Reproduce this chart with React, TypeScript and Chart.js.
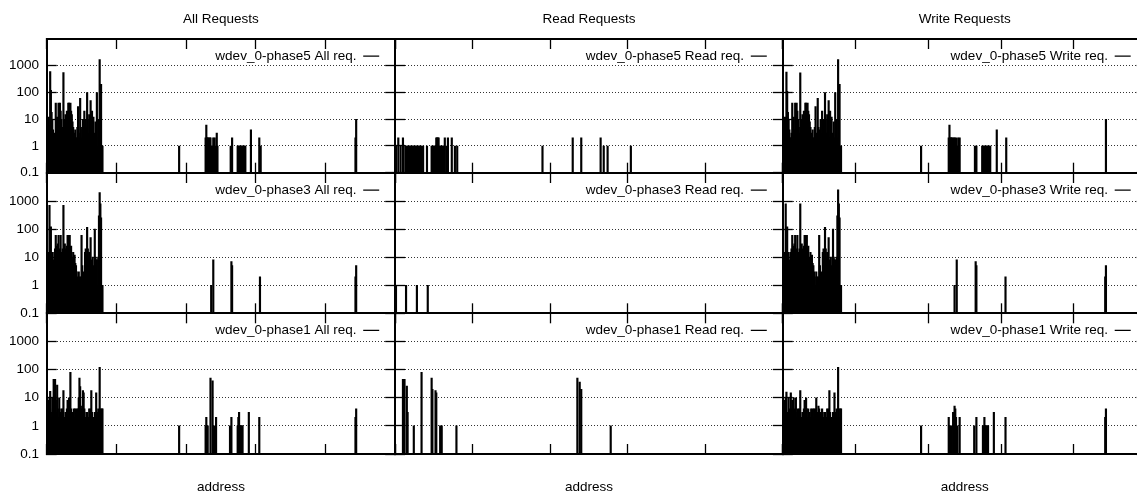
import React, { useEffect, useRef } from 'react';
import { Chart, registerables } from 'chart.js';

Chart.register(...registerables);

// ---------- text ----------
const COLUMN_TITLES = ['All Requests', 'Read Requests', 'Write Requests'];
const LEGEND_SUFFIXES = ['All req.', 'Read req.', 'Write req.'];
const PHASES = ['wdev_0-phase5', 'wdev_0-phase3', 'wdev_0-phase1'];
const X_AXIS_LABEL = 'address';

// ---------- axes ----------
const Y_TICKS = [0.1, 1, 10, 100, 1000];
const Y_MIN = 0.1;
const Y_MAX = 10000;
const X_TICKS = [0, 100, 200, 300, 400, 500];
const X_MIN = 0;
const X_MAX = 500;

// ---------- data (request counts per address; dense blocks start at address 0) ----------
const P5_ALL_DENSE = [12, 10, 8, 12, 6, 600, 120, 18, 10, 4, 2, 2, 3, 40, 8, 12, 5, 40, 10, 40, 20, 10, 5, 3, 550, 8, 10, 15, 6, 20, 12, 40, 40, 30, 40, 20, 15, 8, 5, 3, 2, 4, 2, 2, 5, 30, 3, 2, 60, 5, 2, 4, 10, 3, 20, 2, 10, 5, 100, 10, 3, 15, 5, 50, 2, 20, 2, 12, 3, 2, 8, 2, 100, 1, 10, 2, 1700, 2, 200, 1, 1];
const P5_ALL_SPARSE = [[190, 1], [228, 2], [229, 6], [230, 2], [231, 2], [232, 2], [233, 1], [234, 2], [235, 2], [236, 1], [237, 1], [238, 1], [239, 2], [240, 1], [241, 2], [242, 1], [244, 3], [245, 1], [264, 1], [266, 2], [274, 1], [275, 1], [276, 1], [277, 1], [278, 1], [279, 1], [280, 1], [281, 1], [282, 1], [283, 1], [284, 1], [285, 1], [293, 4], [305, 2], [307, 1], [443, 2], [444, 10]];
const P5_READ_SPARSE = [[1, 1], [4, 2], [7, 1], [10, 2], [13, 1], [15, 1], [16, 1], [17, 1], [18, 1], [19, 1], [20, 1], [21, 1], [22, 1], [23, 1], [24, 1], [25, 1], [26, 1], [27, 1], [28, 1], [29, 1], [30, 1], [31, 1], [32, 1], [33, 1], [34, 1], [36, 1], [41, 1], [47, 1], [48, 1], [49, 1], [50, 1], [51, 1], [52, 1], [53, 2], [54, 2], [55, 2], [56, 2], [57, 1], [58, 1], [59, 1], [60, 1], [61, 1], [62, 1], [63, 1], [64, 2], [66, 1], [68, 2], [73, 2], [77, 1], [80, 1], [190, 1], [229, 2], [240, 2], [265, 2], [269, 1], [274, 1], [304, 1]];
const P5_WRITE_DENSE = [12, 10, 8, 12, 6, 580, 110, 18, 10, 4, 2, 2, 3, 40, 8, 12, 4, 40, 10, 40, 20, 10, 5, 3, 540, 8, 10, 15, 6, 20, 12, 40, 40, 30, 40, 20, 15, 8, 5, 3, 2, 4, 2, 2, 5, 30, 3, 2, 60, 5, 2, 4, 10, 3, 20, 2, 10, 5, 100, 10, 3, 15, 5, 50, 2, 20, 2, 12, 3, 2, 8, 2, 100, 1, 10, 2, 1700, 2, 200, 1, 1];
const P5_WRITE_SPARSE = [[190, 1], [228, 2], [229, 6], [230, 2], [231, 2], [232, 2], [233, 2], [234, 1], [235, 2], [236, 2], [237, 1], [238, 2], [239, 1], [240, 1], [241, 2], [242, 1], [243, 2], [264, 1], [266, 1], [274, 1], [275, 1], [276, 1], [277, 1], [278, 1], [279, 1], [280, 1], [281, 1], [282, 1], [283, 1], [284, 1], [285, 1], [294, 4], [307, 2], [444, 10]];

const P3_ALL_DENSE = [15, 12, 15, 8, 700, 15, 120, 10, 15, 8, 4, 15, 20, 60, 25, 10, 30, 60, 20, 10, 60, 15, 8, 20, 700, 20, 30, 20, 10, 25, 60, 60, 60, 60, 20, 25, 10, 8, 15, 4, 12, 6, 5, 3, 2, 1, 3, 2, 1, 2, 60, 5, 2, 3, 1, 15, 20, 12, 115, 20, 10, 15, 5, 50, 8, 4, 10, 5, 3, 100, 10, 8, 8, 1, 10, 300, 2000, 800, 250, 1, 1];
const P3_ALL_SPARSE = [[236, 1], [239, 8], [265, 7], [266, 5], [306, 2], [443, 2], [444, 5]];
const P3_READ_SPARSE = [[0, 1], [1, 1], [14, 1], [28, 1], [42, 1]];
const P3_WRITE_DENSE = [15, 12, 15, 8, 800, 15, 120, 10, 15, 8, 4, 15, 20, 60, 25, 10, 30, 60, 20, 10, 60, 15, 8, 20, 800, 20, 30, 20, 10, 25, 60, 60, 60, 60, 20, 25, 10, 8, 15, 4, 12, 6, 5, 3, 2, 1, 3, 2, 1, 2, 60, 5, 2, 3, 1, 15, 20, 12, 115, 20, 10, 15, 5, 50, 8, 4, 10, 5, 3, 100, 10, 8, 8, 1, 10, 300, 2500, 800, 250, 1, 1];
const P3_WRITE_SPARSE = [[236, 1], [239, 8], [265, 7], [266, 5], [306, 2], [443, 2], [444, 5]];

const P1_ALL_DENSE = [4, 2, 2, 8, 10, 17, 3, 2, 10, 4, 45, 2, 45, 8, 3, 28, 4, 2, 10, 2, 3, 4, 2, 4, 18, 2, 2, 3, 2, 4, 8, 2, 10, 4, 80, 4, 2, 3, 2, 4, 2, 4, 2, 4, 2, 4, 10, 50, 25, 5, 4, 2, 18, 15, 4, 2, 2, 3, 3, 2, 2, 4, 2, 4, 18, 3, 2, 2, 2, 3, 2, 15, 3, 2, 4, 2, 120, 4, 2, 4, 4];
const P1_ALL_SPARSE = [[190, 1], [228, 1], [229, 2], [231, 1], [235, 50], [238, 40], [240, 1], [243, 2], [263, 1], [265, 2], [274, 1], [275, 2], [276, 3], [277, 1], [278, 1], [279, 1], [280, 1], [281, 1], [290, 3], [305, 2], [443, 2], [444, 4]];
const P1_READ_SPARSE = [[10, 45], [12, 45], [15, 26], [16, 3], [24, 1], [34, 80], [47, 50], [48, 20], [52, 18], [53, 15], [58, 1], [60, 1], [79, 1], [235, 50], [238, 36], [240, 20], [278, 1]];
const P1_WRITE_DENSE = [4, 2, 2, 8, 10, 16, 3, 2, 10, 4, 2, 15, 4, 8, 3, 10, 4, 2, 10, 2, 3, 4, 2, 4, 18, 2, 2, 3, 2, 4, 8, 2, 10, 4, 2, 4, 2, 3, 2, 4, 2, 4, 2, 4, 2, 4, 10, 2, 3, 5, 4, 2, 3, 2, 4, 2, 2, 3, 3, 2, 2, 4, 2, 4, 18, 3, 2, 2, 2, 3, 2, 15, 3, 2, 4, 2, 120, 4, 2, 4, 4];
const P1_WRITE_SPARSE = [[190, 1], [228, 2], [229, 1], [230, 1], [232, 1], [234, 3], [236, 5], [237, 4], [238, 2], [240, 1], [243, 2], [263, 1], [266, 2], [275, 1], [276, 1], [277, 2], [278, 1], [279, 1], [280, 1], [281, 1], [282, 1], [290, 3], [306, 2], [443, 2], [444, 4]];

const SERIES = [
  [[P5_ALL_DENSE, P5_ALL_SPARSE], [null, P5_READ_SPARSE], [P5_WRITE_DENSE, P5_WRITE_SPARSE]],
  [[P3_ALL_DENSE, P3_ALL_SPARSE], [null, P3_READ_SPARSE], [P3_WRITE_DENSE, P3_WRITE_SPARSE]],
  [[P1_ALL_DENSE, P1_ALL_SPARSE], [null, P1_READ_SPARSE], [P1_WRITE_DENSE, P1_WRITE_SPARSE]],
];

// ---------- layout (pixels) ----------
const FONT_FAMILY = "'Liberation Sans', Arial, Helvetica, sans-serif";
const FONT_SIZE = 13.5;
const COLS = [
  { left: 0, width: 400, axisW: 46.7, padR: 4.8 },
  { left: 391, width: 396, axisW: 4.2, padR: 4.2 },
  { left: 779, width: 372, axisW: 3.8, padR: 4.3 },
];
const ROWS = [
  { top: 0, height: 177, topH: 0, botH: 4.3 },
  { top: 169, height: 149, topH: 4, botH: 4.7 },
  { top: 309, height: 186, topH: 4.3, botH: 41 },
];

function toPoints(dense: number[] | null, sparse: number[][]) {
  const pts: { x: number; y: number }[] = [];
  if (dense) dense.forEach((v, i) => pts.push({ x: i, y: v }));
  sparse.forEach(([x, y]) => pts.push({ x, y }));
  return pts;
}

const legendShift = {
  id: 'legendShift',
  afterLayout(chart: any) {
    const lg = chart.legend;
    const ca = chart.chartArea;
    if (!lg || !ca) return;
    const w = lg.width;
    const h = lg.height;
    lg.left = ca.right - 6 - w;
    lg.right = lg.left + w;
    lg.top = ca.top + 0.3;
    lg.bottom = lg.top + h;
  },
};

function makeConfig(row: number, col: number) {
  const c = COLS[col];
  const r = ROWS[row];
  const font = { family: FONT_FAMILY, size: FONT_SIZE, weight: 'normal' as const };
  const tickGrid = {
    drawOnChartArea: false,
    drawTicks: true,
    tickLength: -10,
    color: '#000',
    tickColor: '#000',
    tickWidth: 1.3,
    offset: false,
  };
  const border = { display: true, color: '#000', width: 2 };
  const zeroPad = (s: any) => {
    s.paddingLeft = 0;
    s.paddingRight = 0;
    s.paddingTop = 0;
    s.paddingBottom = 0;
  };
  const fixH = (h: number) => (s: any) => {
    s.height = h;
    zeroPad(s);
  };
  const fixW = (w: number) => (s: any) => {
    s.width = w;
    zeroPad(s);
  };
  const setX = (s: any) => {
    s.ticks = X_TICKS.map((v) => ({ value: v }));
  };
  const setY = (s: any) => {
    s.ticks = Y_TICKS.map((v) => ({ value: v }));
  };
  const [dense, sparse] = SERIES[row][col] as any;
  return {
    type: 'bar' as const,
    data: {
      datasets: [
        {
          label: `${PHASES[row]} ${LEGEND_SUFFIXES[col]}`,
          data: toPoints(dense, sparse),
          backgroundColor: '#000',
          borderWidth: 0,
          barThickness: 1.5,
          xAxisID: 'x',
          yAxisID: 'y',
        },
      ],
    },
    options: {
      responsive: false,
      animation: false as const,
      devicePixelRatio: 1,
      events: [],
      layout: { autoPadding: false, padding: { left: 0, right: c.padR, top: 0, bottom: 0 } },
      scales: {
        x: {
          type: 'linear' as const,
          position: 'bottom' as const,
          min: X_MIN,
          max: X_MAX,
          offset: false,
          afterBuildTicks: setX,
          afterFit: fixH(r.botH),
          ticks: { display: false },
          grid: tickGrid,
          border,
          title: { display: row === 2, text: X_AXIS_LABEL, font, color: '#000', padding: 0 },
        },
        x2: {
          type: 'linear' as const,
          position: 'top' as const,
          min: X_MIN,
          max: X_MAX,
          offset: false,
          afterBuildTicks: setX,
          afterFit: fixH(r.topH),
          ticks: { display: false },
          grid: tickGrid,
          border,
        },
        y: {
          type: 'logarithmic' as const,
          position: 'left' as const,
          min: Y_MIN,
          max: Y_MAX,
          afterBuildTicks: setY,
          afterFit: fixW(c.axisW),
          ticks: {
            display: col === 0,
            autoSkip: false,
            padding: 17.7,
            font,
            color: '#000',
            callback: (v: any) => String(v),
          },
          grid: {
            drawOnChartArea: true,
            drawTicks: true,
            tickLength: -10,
            color: '#333',
            lineWidth: 1,
            tickColor: '#000',
            tickWidth: 1.3,
          },
          border: { ...border, dash: [1, 2] },
        },
        y2: {
          type: 'logarithmic' as const,
          position: 'right' as const,
          min: Y_MIN,
          max: Y_MAX,
          afterBuildTicks: setY,
          afterFit: fixW(0),
          ticks: { display: false },
          grid: tickGrid,
          border,
        },
      },
      plugins: {
        title: {
          display: row === 0,
          text: COLUMN_TITLES[col],
          font,
          color: '#000',
          padding: { top: 10.9, bottom: 11.9 },
          fullSize: false,
        },
        legend: {
          display: true,
          position: 'chartArea' as const,
          align: 'start' as const,
          rtl: true,
          textDirection: 'ltr',
          labels: {
            usePointStyle: true,
            pointStyle: 'line',
            pointStyleWidth: 16,
            boxHeight: FONT_SIZE,
            padding: 10,
            font,
            color: '#000',
            textAlign: 'left' as const,
            generateLabels: (chart: any) =>
              chart.data.datasets.map((ds: any, i: number) => ({
                text: ds.label,
                fillStyle: '#000',
                strokeStyle: '#000',
                lineWidth: 1.3,
                pointStyle: 'line',
                hidden: false,
                datasetIndex: i,
                fontColor: '#000',
                textAlign: 'left',
                rotation: 0,
              })),
          },
        },
        tooltip: { enabled: false },
      },
    },
    plugins: [legendShift],
  };
}

function Panel({ row, col }: { row: number; col: number }) {
  const ref = useRef<HTMLCanvasElement>(null);
  const c = COLS[col];
  const r = ROWS[row];
  useEffect(() => {
    if (!ref.current) return;
    const chart = new Chart(ref.current, makeConfig(row, col) as any);
    return () => chart.destroy();
  }, [row, col]);
  return (
    <canvas
      ref={ref}
      width={c.width}
      height={r.height}
      style={{ position: 'absolute', left: c.left, top: r.top, width: c.width, height: r.height }}
    />
  );
}

export default function App() {
  return (
    <div
      style={{
        position: 'fixed',
        left: 0,
        top: 0,
        width: 1137,
        height: 493,
        overflow: 'hidden',
        background: '#fff',
      }}
    >
      {ROWS.map((_, ri) => COLS.map((__, ci) => <Panel key={`${ri}-${ci}`} row={ri} col={ci} />))}
    </div>
  );
}
